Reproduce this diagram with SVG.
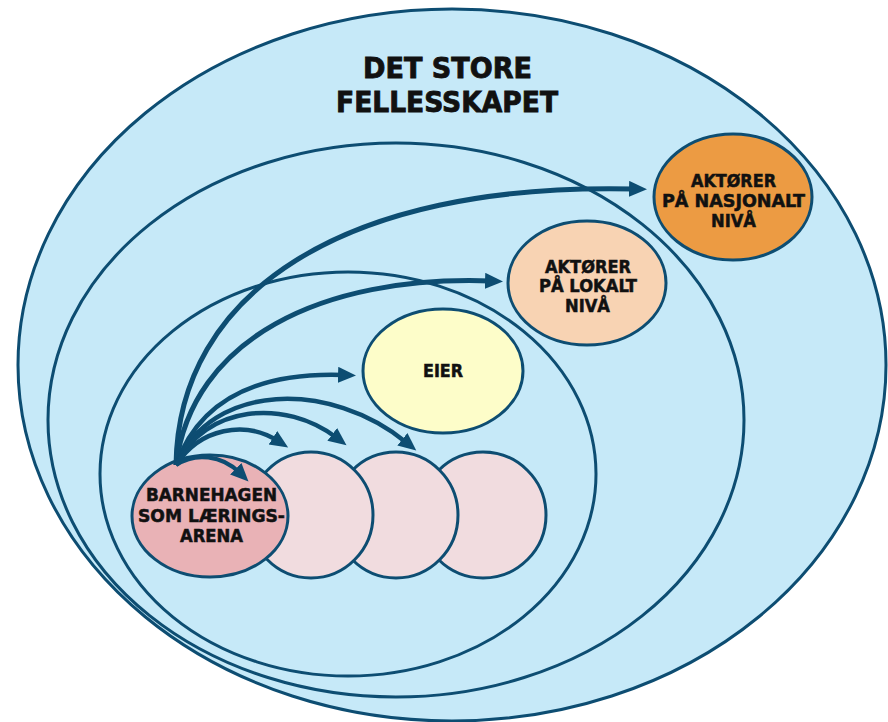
<svg xmlns="http://www.w3.org/2000/svg" width="888" height="722" viewBox="0 0 888 722">
<style>
.ring{fill:#c6e9f8;stroke:#0d4d72;stroke-width:3}
.node{stroke:#0d4d72;stroke-width:3}
.t{font-family:"Liberation Sans Narrow","DejaVu Sans Condensed","Liberation Sans",Arial,sans-serif;font-weight:bold;fill:#111;stroke:#111;stroke-width:0.5;text-anchor:middle}
.title{font-size:29px;stroke-width:0.8}
.lbl{font-size:18.5px}
.arr{fill:none;stroke:#0d4d72;stroke-width:4.5;marker-end:url(#ah)}
</style>
<defs>
<marker id="ah" markerUnits="userSpaceOnUse" markerWidth="20" markerHeight="18" refX="6" refY="8" orient="auto">
<path d="M0,0 L18,8 L0,16 z" fill="#0d4d72"/>
</marker>
</defs>
<rect width="888" height="722" fill="#ffffff"/>
<g id="ring-outer"><ellipse class="ring" cx="452" cy="365" rx="434" ry="356"/></g>
<g id="ring-2"><ellipse class="ring" cx="396" cy="420" rx="348" ry="277"/></g>
<g id="ring-3"><ellipse class="ring" cx="348" cy="474" rx="248" ry="202"/></g>
<g id="title">
<text class="t title" x="447.5" y="78" textLength="169" lengthAdjust="spacingAndGlyphs">DET STORE</text>
<text class="t title" x="447" y="112" textLength="222" lengthAdjust="spacingAndGlyphs">FELLESSKAPET</text>
</g>
<g id="node-nasjonalt">
<ellipse class="node" cx="733" cy="197" rx="79" ry="63" fill="#ec9b43"/>
<text class="t lbl" x="733.5" y="187" textLength="85" lengthAdjust="spacingAndGlyphs">AKTØRER</text>
<text class="t lbl" x="733.5" y="207" textLength="143" lengthAdjust="spacingAndGlyphs">PÅ NASJONALT</text>
<text class="t lbl" x="733.5" y="227" textLength="45" lengthAdjust="spacingAndGlyphs">NIVÅ</text>
</g>
<g id="node-lokalt">
<ellipse class="node" cx="587" cy="283" rx="79" ry="62" fill="#f8d3b3"/>
<text class="t lbl" x="588" y="273" textLength="86" lengthAdjust="spacingAndGlyphs">AKTØRER</text>
<text class="t lbl" x="588" y="292" textLength="98" lengthAdjust="spacingAndGlyphs">PÅ LOKALT</text>
<text class="t lbl" x="587.5" y="312" textLength="45" lengthAdjust="spacingAndGlyphs">NIVÅ</text>
</g>
<g id="node-eier">
<ellipse class="node" cx="443" cy="371" rx="80" ry="62" fill="#fdfdc9"/>
<text class="t lbl" x="443" y="377" textLength="40" lengthAdjust="spacingAndGlyphs">EIER</text>
</g>
<g id="node-c">
<ellipse class="node" cx="483" cy="515" rx="63" ry="63" fill="#f1dcdf"/>
</g>
<g id="node-b">
<ellipse class="node" cx="396" cy="515" rx="62" ry="63" fill="#f1dcdf"/>
</g>
<g id="node-a">
<ellipse class="node" cx="311" cy="515" rx="62" ry="63" fill="#f1dcdf"/>
</g>
<g id="node-barnehagen">
<ellipse class="node" cx="210" cy="516" rx="78" ry="61" fill="#e9b2b6"/>
<text class="t lbl" x="211.5" y="501" textLength="131" lengthAdjust="spacingAndGlyphs">BARNEHAGEN</text>
<text class="t lbl" x="211.5" y="522" textLength="147" lengthAdjust="spacingAndGlyphs">SOM LÆRINGS-</text>
<text class="t lbl" x="211.5" y="542" textLength="63" lengthAdjust="spacingAndGlyphs">ARENA</text>
</g>
<g id="connectors">
<path class="arr" style="stroke-width:5" d="M176,465 C178,295 340,182 635,189"/>
<path class="arr" style="stroke-width:5" d="M176,465 C192,340 320,275 491,281"/>
<path class="arr" d="M176,465 C200,398 260,372 344,375"/>
<path class="arr" d="M176,465 C212,382 330,380 407,443"/>
<path class="arr" d="M176,465 C205,405 285,398 337,438"/>
<path class="arr" d="M176,465 C200,428 245,420 278,441"/>
<path class="arr" d="M176,465 C195,452 222,455 240,473"/>
</g>
</svg>
